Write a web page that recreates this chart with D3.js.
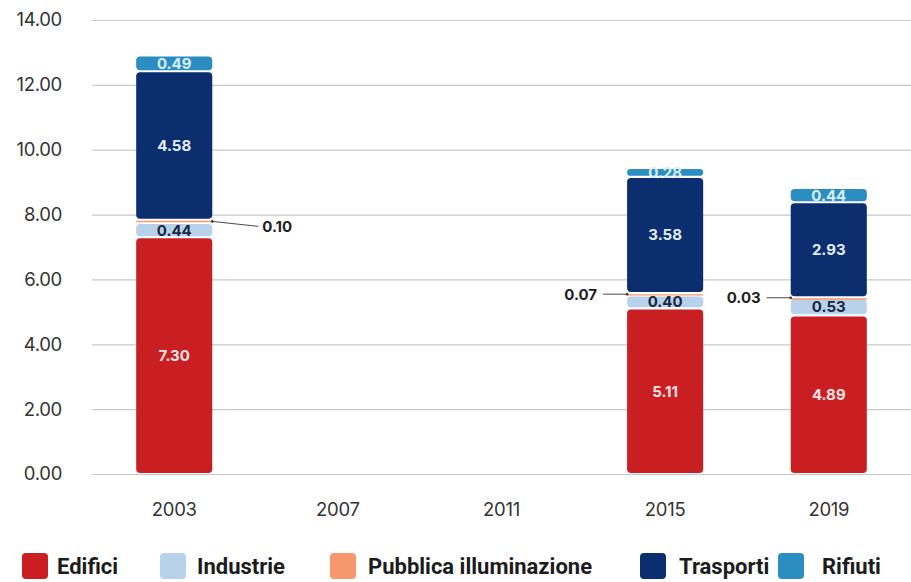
<!DOCTYPE html>
<html>
<head>
<meta charset="utf-8">
<script src="https://cdn.jsdelivr.net/npm/d3@7"></script>
<style>
  html, body { margin: 0; padding: 0; background: #fff; }
  svg { display: block; }
</style>
</head>
<body>
<svg id="chart" width="911" height="582"></svg>
<script>
// ---- data ----
const years = ["2003", "2007", "2011", "2015", "2019"];
const seriesNames = ["Edifici", "Industrie", "Pubblica illuminazione", "Trasporti", "Rifiuti"];
const edifici   = [7.30, null, null, 5.11, 4.89];
const industrie = [0.44, null, null, 0.40, 0.53];
const pubblica  = [0.10, null, null, 0.07, 0.03];
const trasporti = [4.58, null, null, 3.58, 2.93];
const rifiuti   = [0.49, null, null, 0.28, 0.44];
const yTicks = [0, 2, 4, 6, 8, 10, 12, 14];

const colors = ["#C91F22", "#B7D2EA", "#F6986B", "#0B2E6E", "#2B8DC2"];
const labelColors = ["#FBE4E4", "#1B2740", "#1B2740", "#E4ECF7", "#D8EEFA"];

const seriesValues = [edifici, industrie, pubblica, trasporti, rifiuti];
const table = years.map((y, i) => {
  const row = { year: y };
  seriesNames.forEach((s, k) => row[s] = seriesValues[k][i] == null ? 0 : seriesValues[k][i]);
  return row;
});

// ---- layout ----
const svg = d3.select("#chart");
const margin = { left: 92, right: 0, top: 20, bottom: 108 };
const W = 911, H = 582;

const x = d3.scaleBand().domain(years)
  .range([margin.left, W - margin.right])
  .paddingInner(0.535).paddingOuter(0.27);
const y = d3.scaleLinear().domain([0, 14]).range([H - margin.bottom, margin.top]);

// grid
const grid = svg.append("g");
grid.selectAll("line").data(yTicks).join("line")
  .attr("x1", margin.left).attr("x2", W)
  .attr("y1", d => y(d) + 0.5).attr("y2", d => y(d) + 0.5)
  .attr("stroke", "#c9c9c9").attr("stroke-width", 1.2);

// y axis labels
const yAxis = svg.append("g")
  .attr("transform", `translate(${margin.left - 30},0)`)
  .call(d3.axisLeft(y).tickValues(yTicks).tickFormat(d3.format(".2f")).tickSize(0).tickPadding(0));
yAxis.select(".domain").remove();
yAxis.selectAll("text")
  .attr("font-family", "Inter, 'Open Sans', sans-serif")
  .attr("font-size", 18.5).attr("fill", "#333")
  .attr("letter-spacing", "-0.3");

// x axis labels
const xAxis = svg.append("g")
  .attr("transform", `translate(0,${y(0) + 29})`)
  .call(d3.axisBottom(x).tickSize(0).tickPadding(0));
xAxis.select(".domain").remove();
xAxis.selectAll("text")
  .attr("font-family", "Inter, 'Open Sans', sans-serif")
  .attr("font-size", 18.5).attr("fill", "#333")
  .attr("letter-spacing", "-0.3");

// stacked bars
const stack = d3.stack().keys(seriesNames);
const layers = stack(table);
const gap = 2.2;
const barG = svg.append("g");
layers.forEach((layer, k) => {
  const pts = layer.map((d, i) => ({ k, i, y0: d[0], y1: d[1], v: seriesValues[k][i], year: years[i] }))
    .filter(p => p.v != null);
  barG.selectAll(null).data(pts).join("rect")
    .attr("x", p => x(p.year))
    .attr("width", x.bandwidth())
    .attr("y", p => y(p.y1) + gap / 2)
    .attr("height", p => Math.max(1.4, y(p.y0) - y(p.y1) - gap))
    .attr("rx", p => Math.min(4, Math.max(0.5, (y(p.y0) - y(p.y1) - gap) / 2)))
    .attr("fill", colors[k]);
});

// labels
const labG = svg.append("g")
  .attr("font-family", "Inter, 'Open Sans', sans-serif")
  .attr("font-weight", 700).attr("font-size", 15)
  .attr("text-anchor", "middle");
layers.forEach((layer, k) => {
  layer.forEach((d, i) => {
    const v = seriesValues[k][i];
    if (v == null) return;
    const cx = x(years[i]) + x.bandwidth() / 2;
    const cy = (y(d[0]) + y(d[1])) / 2;
    if (k === 2) {
      const right = i === 0;
      const ex = right ? x(years[i]) + x.bandwidth() : x(years[i]);
      const lx = right ? ex + 46 : ex - 24;
      const ly = right ? cy + 5 : cy;
      labG.append("line")
        .attr("x1", ex).attr("y1", cy).attr("x2", lx).attr("y2", ly)
        .attr("stroke", "#4a4a4a").attr("stroke-width", 1);
      labG.append("circle").attr("cx", ex).attr("cy", cy).attr("r", 1.3).attr("fill", "#333");
      labG.append("text")
        .attr("x", right ? lx + 4 : lx - 6)
        .attr("y", ly).attr("dy", "0.36em")
        .attr("text-anchor", right ? "start" : "end")
        .attr("fill", "#1e1e1e").attr("font-size", 15)
        .text(d3.format(".2f")(v));
    } else {
      labG.append("text")
        .attr("x", cx).attr("y", cy).attr("dy", "0.36em")
        .attr("fill", labelColors[k])
        .text(d3.format(".2f")(v));
    }
  });
});

// legend
const legendX = [22, 160, 330, 640, 778];
const legendTextDx = [35, 37, 38, 39, 44];
const legendTextW = [65, 95, 232, 94, 86];
const legend = svg.append("g");
seriesNames.forEach((s, k) => {
  const g = legend.append("g").attr("transform", `translate(${legendX[k]},553)`);
  g.append("rect").attr("width", 26).attr("height", 26).attr("rx", 4).attr("fill", colors[k]);
  const t = g.append("text").attr("x", legendTextDx[k]).attr("y", 21)
    .attr("font-family", "Roboto, 'Liberation Sans', sans-serif")
    .attr("font-weight", 700).attr("font-size", 22).attr("fill", "#1c1c1c")
    .text(s);
  const natural = t.node().getComputedTextLength();
  if (natural > legendTextW[k]) {
    t.attr("textLength", legendTextW[k]).attr("lengthAdjust", "spacingAndGlyphs");
  }
});
</script>
</body>
</html>
